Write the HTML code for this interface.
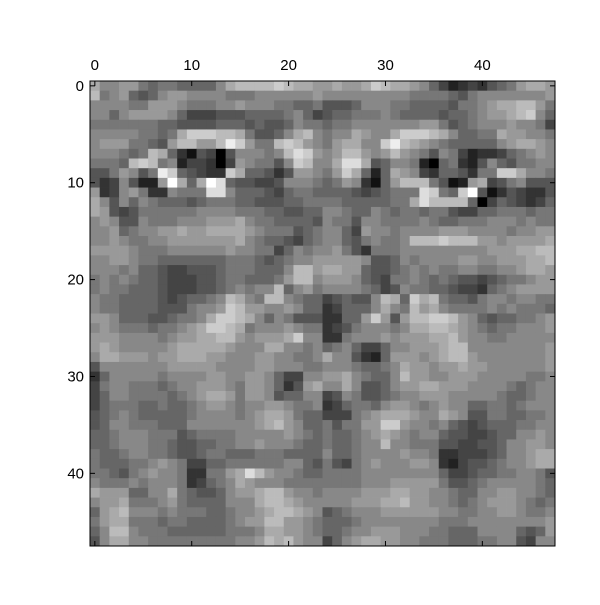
<!DOCTYPE html>
<html><head><meta charset="utf-8"><style>
html,body{margin:0;padding:0;background:#fff;}
svg text{font-family:"Liberation Sans",sans-serif;font-size:15px;fill:#000;}
</style></head><body>
<svg id="chart" width="600" height="600" viewBox="0 0 600 600" xmlns="http://www.w3.org/2000/svg">
<rect width="600" height="600" fill="#fff"/>
<g id="cells"></g>
<g id="axes"></g>
</svg>
<script>
const imageRows = [
"a8899767766668abbbbcbaa9"+"9a99acbaa986423435679aa9",
"b78965689988887778888889"+"888888888777765788888889",
"888877999877788988877667"+"555688877666657789aabb97",
"886899998644455566667864"+"5667778766665667899abc86",
"777777766555566656556877"+"677888888899756788898874",
"888887767acccbba75568ab8"+"788a988acccba86677a99887",
"89997765 9bb99bec977bcb98".replace(' ',''),
"888767ba6315405888 78bdc9".replace(' ',''),
"7776bcb78244304987758cb8"+"8adda5688720673258657788",
"5579857ec65433ca66535998"+"79ca626a9843665377cca887",
"53485229fa6afd6554458887"+"67983169bbb75129a4578555",
"934897338777dd8666546776"+"6665456777dc76cf51354335",
"a85868766656777665556677"+"776666677adbbbb604654346",
"a95457777778888777665566"+"887668767767754466777677",
"898558777888999a87766665"+"877588777787667778887877",
"889678899a99aaaa98777567"+"886498878888999888878899",
"889877889999999a87665467"+"886578778bbbcbbb9989999a",
"999987778888889887746878"+"89753777888888888999aabb",
"889987766666667776567889"+"999985568788889988999aab",
"888786654455567776668bb9"+"aa9965567878778877889aa9",
"787876654445567766679bb8"+"999865477876765545677899",
"7877666544455678788b6897"+"888876458776654436789999",
"877666654566 78ba87bb8766".replace(' ','')+"456558ba6cab766578878877",
"877666655578 89cb99889866".replace(' ','')+"346668a87b9a877778787776",
"998666556778accba8687555"+"33669c959bbccb9865667789",
"89877767789accba78889877"+"345788878aabba9876778889",
"99988887899aabb98999ac88"+"33788898999aab9887788888",
"9a9888889aaaaa9888aa8878"+"678644688999abb888888889",
"8aa999899aaa998889988778"+"a88532699989abb988888889",
"588888889999988889988877"+"88876678a99899a998888889",
"368888878888998899864488"+"99a87668b998899988888778",
"478877767889998799 86359a".replace(' ',''),
"468877776789aa9799856688"+"458755678899988888766788",
"467776676678998788998778"+"346776899878988667767888",
"567876666678888789aa9766"+"444789aaa988a98557766778",
"568877766688888889ab9866"+"757799cc9887865456667788",
"667888777567777888889876"+"766789a98788655445668898",
"667888776556677889888766"+"766788b88777554455688998",
"766788776556776667776666"+"8667888898873344456889aa",
"766677898744667777778865"+"7547898889983245567889aa",
"776578988733779adb988766"+"777788888888644566778875",
"877787888734678a98887777"+"777788899999755678888876",
"a9996688a76556899abb9887"+"8888999aa998876688998876",
"899a7778976666888abba988"+"888999aab998876789998767",
"69ab88878777667889abba98"+"567888999999887788998778",
"79aa77767766667899bb9987"+"666788888888777888888889",
"68bb87776666667778aa9987"+"667889998887766688886569",
"58aa88777777777889bab988"+"4689aa998877766677885488"
];
// rows 6, 7 and 31 right halves
const rightPatch = {6:"79aa88ceba9876666689aa98",7:"89bb989b987587423346789 8".replace(' ',''),31:"88a8556899aa999888876788"};
const xTicks = [0,10,20,30,40];
const yTicks = [0,10,20,30,40];
const nCols = 48, nRows = 48;
</script>
<script>
const L=90,T=81,W=465,H=465;
const cw=W/nCols, ch=H/nRows;
function xScale(c){return L+c*cw;}
function yScale(r){return T+r*ch;}
const NS="http://www.w3.org/2000/svg";
const cellsG=document.getElementById('cells');
const grid=imageRows.map((s,r)=>{
  let row=s;
  if(rightPatch[r]!==undefined){row=row.slice(0,24)+rightPatch[r];}
  row=(row+"888888888888888888888888888888888888888888888888").slice(0,48);
  return row.split('').map(ch=>parseInt(ch,16));
});
let mn=Infinity,mx=-Infinity;
grid.forEach(r=>r.forEach(v=>{if(v<mn)mn=v;if(v>mx)mx=v;}));
grid.forEach((row,r)=>row.forEach((v,c)=>{
  const g=Math.round((v-mn)/(mx-mn||1)*255);
  const rect=document.createElementNS(NS,'rect');
  rect.setAttribute('x',xScale(c).toFixed(2));
  rect.setAttribute('y',yScale(r).toFixed(2));
  rect.setAttribute('width',(cw+0.4).toFixed(2));
  rect.setAttribute('height',(ch+0.4).toFixed(2));
  rect.setAttribute('fill',`rgb(${g},${g},${g})`);
  
  
  cellsG.appendChild(rect);
}));
const ax=document.getElementById('axes');
function add(tag,attrs,text){const e=document.createElementNS(NS,tag);for(const k in attrs)e.setAttribute(k,attrs[k]);if(text!==undefined)e.textContent=text;ax.appendChild(e);return e;}
const frame=add('rect',{x:L,y:T,width:W,height:H,fill:'none',stroke:'#000','stroke-width':1});


xTicks.forEach(t=>{
  const x=xScale(t+0.5);
  const a=add('line',{x1:x,y1:T,x2:x,y2:T+5,stroke:'#000'});
  
  
  const b=add('line',{x1:x,y1:T+H,x2:x,y2:T+H-5,stroke:'#000'});
  
  
  const l=add('text',{x:x,y:T-11,'text-anchor':'middle'},String(t));
  
  
});
yTicks.forEach(t=>{
  const y=yScale(t+0.5);
  const a=add('line',{x1:L,y1:y,x2:L+5,y2:y,stroke:'#000'});
  
  
  const b=add('line',{x1:L+W,y1:y,x2:L+W-5,y2:y,stroke:'#000'});
  
  
  const l=add('text',{x:L-6,y:y+5,'text-anchor':'end'},String(t));
  
  
});
</script>
</body></html>
